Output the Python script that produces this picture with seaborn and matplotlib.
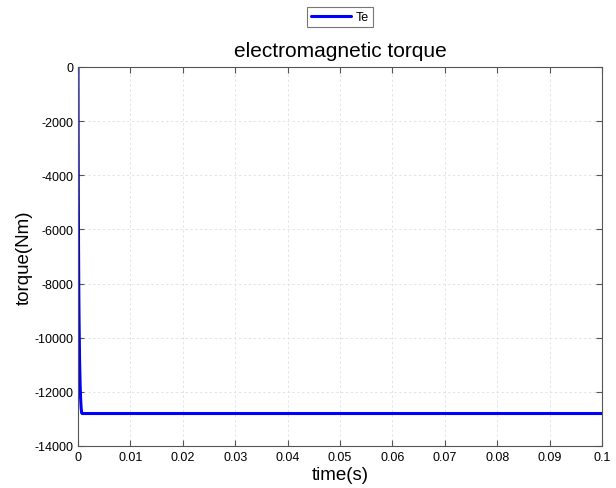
import matplotlib
matplotlib.use("Agg")
import matplotlib.pyplot as plt
import seaborn as sns
import pandas as pd

time_s = [0, 0.00002, 0.00005, 0.0001, 0.00015, 0.0002, 0.0003, 0.0004, 0.0005, 0.0006, 0.0007, 0.0008, 0.001, 0.02, 0.05, 0.1]
torque = [0, -1800, -4000, -6500, -8200, -9300, -10800, -11700, -12250, -12600, -12780, -12800, -12800, -12800, -12800, -12800]
series_name = "Te"

df = pd.DataFrame({"time": time_s, "torque": torque, "series": series_name})

sns.set_style("white")
plt.rcParams['font.family'] = ['Liberation Sans', 'DejaVu Sans']
plt.rcParams['text.color'] = 'black'
plt.rcParams['axes.labelcolor'] = 'black'

fig = plt.figure(figsize=(6.16, 4.89), dpi=100)
ax = fig.add_axes([78/616, 1-447/489, (602-78)/616, (447-68)/489])

sns.lineplot(data=df, x="time", y="torque", hue="series", palette=["#0000ff"], linewidth=2.2, ax=ax, legend=True)

ax.set_xlim(0, 0.1)
ax.set_ylim(-14000, 0)
ax.set_xticks([i/100 for i in range(11)])
ax.set_xticklabels(["0"] + [f"{i/100:g}" for i in range(1, 10)] + ["0.1"])
ax.set_yticks(range(-14000, 1, 2000))
ax.set_yticklabels([str(v) for v in range(-14000, 1, 2000)])
ax.grid(True, color="#e4e4e4", linestyle=(0, (2.5, 2.5)), linewidth=0.7)
ax.tick_params(direction="in", length=4, labelsize=9, colors="#555555", labelcolor="black", top=True, right=True, bottom=True, left=True)
for s in ax.spines.values():
    s.set_color("#555555")
    s.set_linewidth(0.8)
ax.set_xlabel("time(s)", fontsize=13.5, labelpad=2)
ax.set_ylabel("torque(Nm)", fontsize=13.5, labelpad=1)
ax.set_title("electromagnetic torque", fontsize=15, pad=8, color="black")

leg = ax.legend(loc="center", bbox_to_anchor=(340/616, 1-18/489), bbox_transform=fig.transFigure,
                fontsize=9, frameon=True, fancybox=False, edgecolor="#555555", handlelength=3.2,
                borderpad=0.3, handletextpad=0.4)
leg.get_frame().set_linewidth(0.8)

fig.savefig("out.png", dpi=100)
